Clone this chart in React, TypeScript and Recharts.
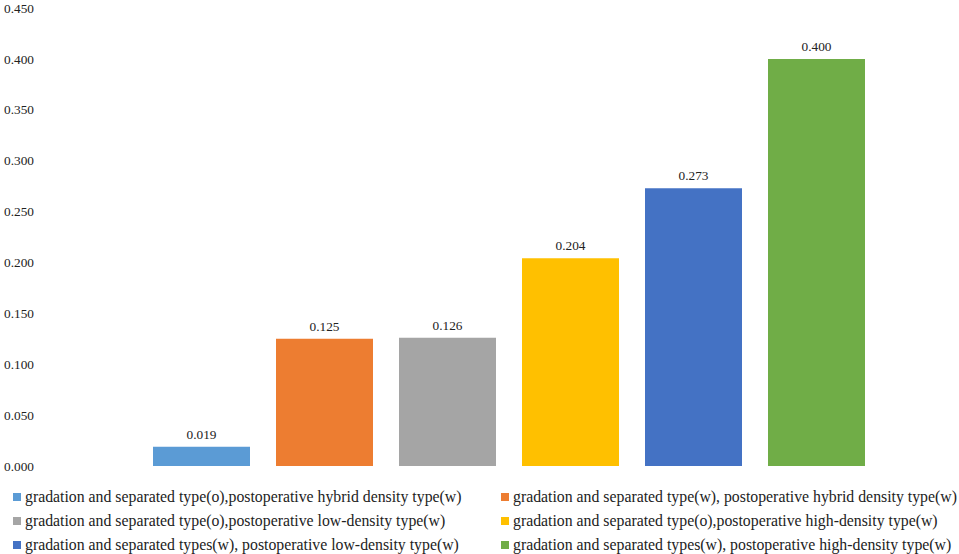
import React from 'react';
import { BarChart, Bar, XAxis, YAxis, Legend, LabelList } from 'recharts';

const categories = [''];
const seriesNames = [
  'gradation and separated type(o),postoperative hybrid density type(w)',
  'gradation and separated type(w), postoperative hybrid density type(w)',
  'gradation and separated type(o),postoperative low-density type(w)',
  'gradation and separated type(o),postoperative high-density type(w)',
  'gradation and separated types(w), postoperative low-density type(w)',
  'gradation and separated types(w), postoperative high-density type(w)',
];
const seriesValues = [0.019, 0.125, 0.126, 0.204, 0.273, 0.4];
const seriesColors = ['#5B9BD5', '#ED7D31', '#A5A5A5', '#FFC000', '#4472C4', '#70AD47'];
const yTicks = [0, 0.05, 0.1, 0.15, 0.2, 0.25, 0.3, 0.35, 0.4, 0.45];

const data = categories.map((c) => {
  const row: Record<string, any> = { name: c };
  seriesValues.forEach((v, i) => {
    row['s' + i] = v;
  });
  return row;
});

const FONT = '"Liberation Serif", "Times New Roman", serif';

const LegendContent = () => {
  const order = [0, 1, 2, 3, 4, 5];
  return (
    <div style={{ position: 'relative', width: 959, height: 88, fontFamily: FONT, fontSize: 15.8, color: '#222' }}>
      {order.map((i) => {
        const col = i % 2;
        const row = Math.floor(i / 2);
        const left = col === 0 ? 13 : 501;
        const top = 19 + row * 24;
        return (
          <div key={i} style={{ position: 'absolute', left, top, height: 24, lineHeight: '24px', whiteSpace: 'nowrap', display: 'flex', alignItems: 'center' }}>
            <span style={{ display: 'inline-block', width: 8, height: 8, background: seriesColors[i], marginRight: 4 }} />
            <span>{seriesNames[i]}</span>
          </div>
        );
      })}
    </div>
  );
};

export default function App() {
  return (
    <div style={{ position: 'absolute', left: 0, top: 0, width: 959, height: 554, background: '#fff' }}>
      <BarChart width={959} height={554} data={data} margin={{ top: 8, right: 9, bottom: 0, left: 0 }} barGap={26}>
        <XAxis dataKey="name" hide padding={{ left: 27, right: 0 }} />
        <YAxis
          width={40}
          domain={[0, 0.45]}
          ticks={yTicks}
          axisLine={false}
          tickLine={false}
          tickSize={0}
          tickMargin={6}
          tickFormatter={(v: number) => v.toFixed(3)}
          tick={{ fontFamily: FONT, fontSize: 13.3, fill: '#222' }}
        />
        <Legend verticalAlign="bottom" content={<LegendContent />} wrapperStyle={{ left: 0, width: 959 }} />
        {seriesValues.map((_, i) => (
          <Bar key={i} dataKey={'s' + i} name={seriesNames[i]} fill={seriesColors[i]} barSize={97} isAnimationActive={false}>
            <LabelList
              dataKey={'s' + i}
              position="top"
              offset={8}
              formatter={(v: any) => Number(v).toFixed(3)}
              style={{ fontFamily: FONT, fontSize: 13.3, fill: '#222' }}
            />
          </Bar>
        ))}
      </BarChart>
    </div>
  );
}
